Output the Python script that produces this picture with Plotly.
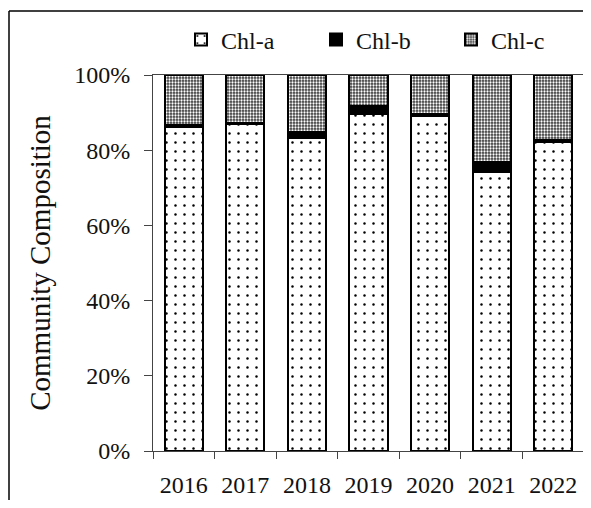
import plotly.graph_objects as go

years = ["2016", "2017", "2018", "2019", "2020", "2021", "2022"]
chl_a = [86.3, 87.0, 83.2, 89.6, 89.1, 74.1, 82.3]
chl_b = [0.3, 0.3, 1.6, 2.2, 0.5, 2.8, 0.3]
chl_c = [13.4, 12.7, 15.2, 8.2, 10.4, 23.1, 17.4]
y_tick_vals = [0, 20, 40, 60, 80, 100]
y_tick_text = ["0%", "20%", "40%", "60%", "80%", "100%"]

FONT = "Times New Roman, Liberation Serif, serif"
# page body has an 8px default margin; figure size compensates
W, H = 583, 492
L, R, T, B = 145, 7, 67, 49
PW = W - L - R
PH = H - T - B

fig = go.Figure()
fig.add_trace(go.Bar(
    x=years, y=chl_a, name="Chl-a",
    marker=dict(color="white", line=dict(color="black", width=2),
                pattern=dict(shape=".", fgcolor="black", bgcolor="white",
                             size=9, solidity=0.06, fillmode="replace")),
))
fig.add_trace(go.Bar(
    x=years, y=chl_b, name="Chl-b",
    marker=dict(color="black", line=dict(color="black", width=2)),
))
fig.add_trace(go.Bar(
    x=years, y=chl_c, name="Chl-c",
    marker=dict(color="#444444", line=dict(color="black", width=2),
                pattern=dict(shape=".", fgcolor="white", bgcolor="#3a3a3a",
                             size=3, solidity=0.45, fillmode="replace")),
))

fig.update_layout(
    barmode="stack",
    bargap=0.38,
    width=W, height=H,
    margin=dict(l=L, r=R, t=T, b=B, autoexpand=False),
    paper_bgcolor="white", plot_bgcolor="white",
    font=dict(family=FONT, size=24, color="#111111"),
    showlegend=True,
    legend=dict(orientation="h", traceorder="normal", x=0.5 + 15 / PW, xanchor="center",
                y=1 + 35 / PH, yanchor="middle",
                font=dict(family=FONT, size=24, color="#111111"),
                entrywidth=90, entrywidthmode="pixels",
                itemwidth=30, bgcolor="rgba(0,0,0,0)"),
    xaxis=dict(type="category", showline=True, linecolor="#444444", linewidth=1,
               mirror=True, ticks="outside", tickson="boundaries", ticklen=7,
               tickcolor="#444444", showgrid=False, ticklabelstandoff=12,
               tickfont=dict(family=FONT, size=24, color="#111111")),
    yaxis=dict(range=[0, 100], tickmode="array", tickvals=y_tick_vals, ticktext=y_tick_text,
               showline=True, linecolor="#444444", linewidth=1, mirror=True,
               ticks="outside", ticklen=8, tickcolor="#444444", showgrid=False,
               zeroline=False, ticklabelstandoff=9,
               tickfont=dict(family=FONT, size=24, color="#111111"),
               title=dict(text="Community Composition",
                          font=dict(family=FONT, size=29, color="#111111"), standoff=15)),
    shapes=[
        dict(type="line", xref="paper", yref="paper",
             x0=(1 - L) / PW, x1=(1 - L) / PW, y0=(T + PH - 3) / PH, y1=-B / PH - 0.1,
             line=dict(color="black", width=1.5)),
        dict(type="line", xref="paper", yref="paper",
             x0=(1 - L) / PW, x1=(W + 10 - L) / PW, y0=(T + PH - 3) / PH, y1=(T + PH - 3) / PH,
             line=dict(color="black", width=1.5)),
    ],
)

fig.write_html("out.html")
